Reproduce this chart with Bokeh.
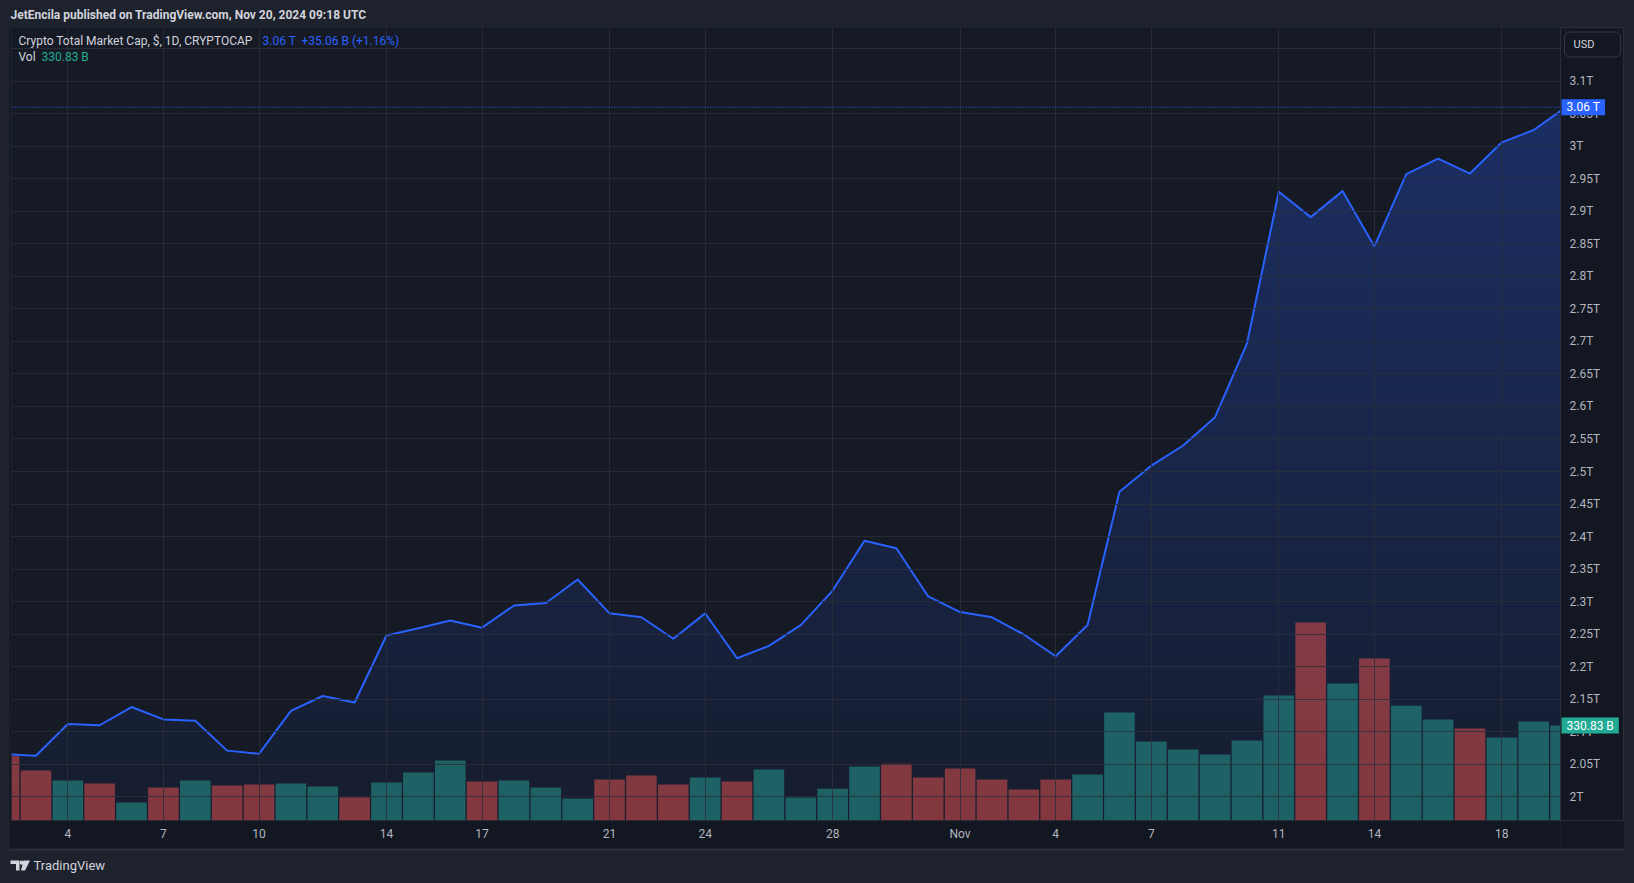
import numpy as np
import pandas as pd
from bokeh.plotting import figure
from bokeh.layouts import column, row
from bokeh.models import Range1d, FixedTicker, Label, Span, CustomJSTickFormatter, Spacer
from bokeh.core.properties import value
from bokeh.embed import file_html
from bokeh.resources import INLINE

# ---------------- data ----------------
start_date = "2024-10-02"
price_t = [2.0655, 2.063, 2.112, 2.110, 2.138, 2.119, 2.117, 2.071, 2.066, 2.132,
           2.155, 2.145, 2.248, 2.259, 2.271, 2.260, 2.294, 2.298, 2.334, 2.282,
           2.276, 2.243, 2.282, 2.213, 2.232, 2.264, 2.317, 2.3935, 2.382, 2.308,
           2.284, 2.276, 2.2495, 2.216, 2.264, 2.469, 2.509, 2.540, 2.5835, 2.6965,
           2.930, 2.891, 2.931, 2.846, 2.957, 2.981, 2.958, 3.006, 3.025, 3.060]
volume_b = [224, 174, 139, 129, 63, 115, 139, 122, 125, 129,
            118, 80, 132, 167, 209, 136, 139, 115, 77, 143,
            157, 125, 150, 136, 178, 80, 111, 188, 198, 150,
            181, 143, 108, 143, 160, 376, 275, 247, 230, 279,
            435, 690, 477, 564, 400, 352, 320, 289, 345, 330.83]
vol_dir = ["down", "down", "up", "down", "up", "down", "up", "down", "down", "up",
           "up", "down", "up", "up", "up", "down", "up", "up", "up", "down",
           "down", "down", "up", "down", "up", "up", "up", "up", "down", "down",
           "down", "down", "down", "down", "up", "up", "up", "up", "up", "up",
           "up", "down", "up", "down", "up", "up", "down", "up", "up", "up"]
tick_dates = ["2024-10-04", "2024-10-07", "2024-10-10", "2024-10-14", "2024-10-17",
              "2024-10-21", "2024-10-24", "2024-10-28", "2024-11-01", "2024-11-04",
              "2024-11-07", "2024-11-11", "2024-11-14", "2024-11-18"]
tick_labels = ["4", "7", "10", "14", "17", "21", "24", "28", "Nov", "4", "7", "11", "14", "18"]
price_ticks = [round(2.0 + 0.05 * k, 2) for k in range(24)]
price_tick_labels = [f"{v:g}T" for v in price_ticks]

dates = pd.date_range(start_date, periods=len(price_t), freq="D")
idx = [int(d) for d in (dates - dates[0]).days]
tick_pos = [int((pd.Timestamp(d) - dates[0]).days) for d in tick_dates]

# ---------------- style ----------------
FRAME_BG = "#161a25"
STRIP_BG = "#131722"
OUTER_BG = "#1e222d"
BORDER = "#2a2e39"
BLUE = "#2962ff"
TEAL = "#22ab94"
FONT = "Roboto"
AXIS_TXT = "#b2b5be"
TXT = "#d1d4dc"

x_view = Range1d(0.233, 48.84)
y_view = Range1d(1.9636, 3.1825)
vol_view = Range1d(0, 2762)

# ---------------- main pane ----------------
p = figure(width=1551, height=821, x_range=x_view, y_range=y_view,
           y_axis_location=None, output_backend="svg", toolbar_location=None,
           min_border_left=2, min_border_right=0, min_border_top=0, min_border_bottom=28,
           background_fill_color=FRAME_BG, border_fill_color=STRIP_BG,
           outline_line_color=BORDER)
p.extra_y_ranges = {"vol": vol_view}

# gradient fill under the line: horizontal colour bands, masked above the line
def hex_to_rgb(h):
    h = h.lstrip("#")
    return np.array([int(h[i:i + 2], 16) for i in (0, 2, 4)], dtype=float)

bg_rgb = hex_to_rgb(FRAME_BG)
blue_rgb = hex_to_rgb(BLUE)
n_bands = 90
edges = np.linspace(y_view.start, y_view.end, n_bands + 1)
mids = (edges[:-1] + edges[1:]) / 2
frac = np.clip((mids - y_view.start) / (max(price_t) - y_view.start), 0, 1)
alphas = 0.04 + (0.29 - 0.04) * frac
band_colors = []
for a in alphas:
    c = bg_rgb * (1 - a) + blue_rgb * a
    band_colors.append("#%02x%02x%02x" % tuple(int(round(v)) for v in c))
p.quad(left=x_view.start - 1, right=x_view.end + 1, bottom=edges[:-1], top=edges[1:],
       fill_color=band_colors, line_color=band_colors, line_width=1)
p.varea(x=idx, y1=price_t, y2=y_view.end + 0.2, fill_color=FRAME_BG)

# volume bars
bar_colors = ["#26a69a" if d == "up" else "#ef5350" for d in vol_dir]
p.vbar(x=idx, top=volume_b, bottom=0, width=0.96, y_range_name="vol",
       fill_color=bar_colors, fill_alpha=0.5, line_color=None)

# last price dotted line
p.add_layout(Span(location=price_t[-1], dimension="width", line_color=BLUE,
                  line_dash="1 2", line_width=1))

# price line
p.line(idx, price_t, line_color=BLUE, line_width=2, line_join="round")

# grid
p.xgrid.ticker = FixedTicker(ticks=tick_pos)
p.ygrid.ticker = FixedTicker(ticks=price_ticks + [3.15])
p.grid.grid_line_color = BORDER
p.grid.grid_line_alpha = 0.8
p.grid.level = "guide"

# time axis
p.xaxis.ticker = FixedTicker(ticks=tick_pos)
p.xaxis.formatter = CustomJSTickFormatter(
    args=dict(vals=tick_pos, labs=tick_labels),
    code="const i = vals.findIndex(v => Math.abs(v - tick) < 1e-6); return i >= 0 ? labs[i] : '';")
xa = p.xaxis[0]
xa.axis_line_color = None
xa.major_tick_line_color = None
xa.minor_tick_line_color = None
xa.major_tick_out = 0
xa.major_tick_in = 0
xa.major_label_text_color = AXIS_TXT
xa.major_label_text_font_size = "12px"
xa.major_label_text_font = FONT
xa.major_label_standoff = 6


def lbl(fig, text, x, y, color, size="12px", style="normal", **kw):
    fig.add_layout(Label(x=x, y=y, text=text, text_color=color, text_font=FONT,
                         text_font_size=size, text_font_style=style,
                         text_baseline="middle", **kw))


# legend texts (top-left)
lbl(p, "Crypto Total Market Cap, $, 1D, CRYPTOCAP", 7, 780, TXT, x_units="screen", y_units="screen")
lbl(p, "3.06 T", 251, 780, BLUE, x_units="screen", y_units="screen")
lbl(p, "+35.06 B (+1.16%)", 290, 780, BLUE, x_units="screen", y_units="screen")
lbl(p, "Vol", 7, 764, TXT, x_units="screen", y_units="screen")
lbl(p, "330.83 B", 30, 764, TEAL, x_units="screen", y_units="screen")

# ---------------- price scale strip ----------------
ps = figure(width=64, height=821, x_range=Range1d(0, 64), y_range=y_view,
            output_backend="svg", toolbar_location=None,
            min_border_left=0, min_border_right=0, min_border_top=0, min_border_bottom=28,
            background_fill_color=STRIP_BG, border_fill_color=STRIP_BG,
            outline_line_color=BORDER, x_axis_type=None, y_axis_type=None)
ps.extra_y_ranges = {"vol": vol_view}
ps.grid.visible = False
ps.text(x=[9] * len(price_ticks), y=price_ticks, text=price_tick_labels,
        text_color=AXIS_TXT, text_font=value(FONT), text_font_size=value("12px"),
        text_baseline="middle", text_align="left")
ps.add_layout(Label(x=1, y=price_t[-1], text="3.06 T", text_color="white",
                    text_font=FONT, text_font_size="12px", text_baseline="middle",
                    background_fill_color=BLUE, padding=dict(left=5, right=5, top=1, bottom=1)))
ps.add_layout(Label(x=1, y=volume_b[-1], y_range_name="vol", text="330.83 B",
                    text_color="white", text_font=FONT, text_font_size="12px",
                    text_baseline="middle", background_fill_color=TEAL,
                    padding=dict(left=5, right=5, top=1, bottom=1)))
ps.add_layout(Label(x=4, y=776, y_units="screen", text="USD",
                    text_color=TXT, text_font=FONT, text_font_size="11px", text_baseline="middle",
                    background_fill_color=STRIP_BG, border_line_color="#363a45",
                    border_radius=5, padding=dict(left=9, right=26, top=6, bottom=6)))

# ---------------- header ----------------
hdr = figure(width=1634, height=27, x_range=Range1d(0, 1634), y_range=Range1d(0, 27),
             output_backend="svg", toolbar_location=None, min_border=0,
             background_fill_color=OUTER_BG, border_fill_color=OUTER_BG,
             outline_line_color=None, x_axis_type=None, y_axis_type=None)
hdr.grid.visible = False
lbl(hdr, "JetEncila published on TradingView.com, Nov 20, 2024 09:18 UTC", 10, 13, TXT, style="bold")

# ---------------- footer ----------------
ftr = figure(width=1634, height=35, x_range=Range1d(0, 1634), y_range=Range1d(0, 35),
             output_backend="svg", toolbar_location=None, min_border=0,
             background_fill_color=OUTER_BG, border_fill_color=OUTER_BG,
             outline_line_color=None, x_axis_type=None, y_axis_type=None)
ftr.grid.visible = False
ftr.segment(x0=[9], y0=[34], x1=[1624], y1=[34], line_color=BORDER, line_width=2)
ftr.patch([10, 19, 19, 15.5, 15.5, 10], [23, 23, 13, 13, 19.5, 19.5], fill_color=TXT, line_color=None)
ftr.scatter([21.2], [20.8], size=4.2, fill_color=TXT, line_color=None)
ftr.patch([23, 29.5, 24.5, 20.5], [23, 23, 13, 13], fill_color=TXT, line_color=None)
lbl(ftr, "TradingView", 33, 17.7, TXT, size="13px")

layout = column(hdr, row(Spacer(width=9, height=821), p, ps, spacing=0), ftr, spacing=0)
try:
    from bokeh.models import GlobalInlineStyleSheet
    layout.stylesheets = [GlobalInlineStyleSheet(css="body { background: #1e222d; }")]
except Exception:
    pass

open("out.html", "w").write(file_html(layout, INLINE))
